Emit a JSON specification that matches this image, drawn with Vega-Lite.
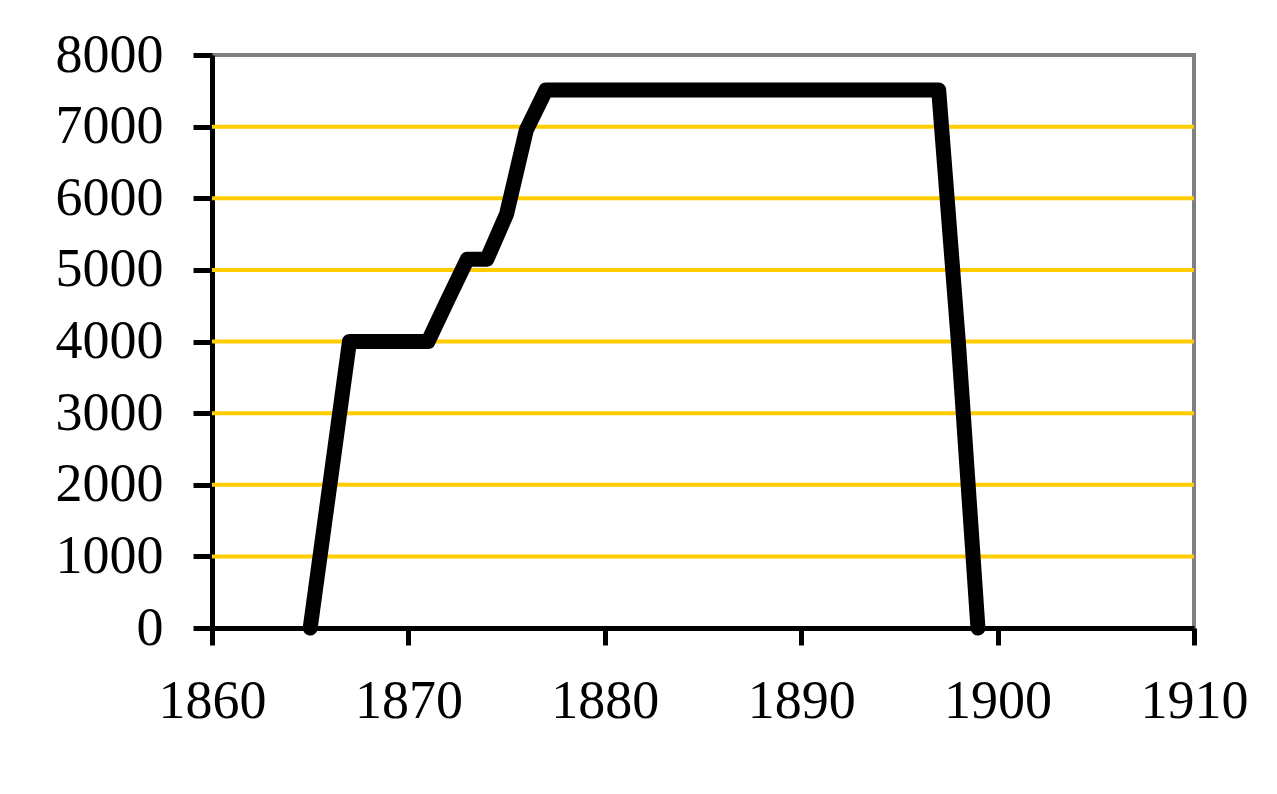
{
  "$schema": "https://vega.github.io/schema/vega-lite/v6.json",
  "width": 982,
  "height": 573,
  "autosize": {"type": "none"},
  "padding": {"left": 212, "top": 55, "right": 83, "bottom": 166},
  "background": "white",
  "config": {
    "view": {"stroke": "#808080", "strokeWidth": 4},
    "axis": {
      "labelFont": "Liberation Serif",
      "labelFontSize": 54,
      "labelColor": "black",
      "domainColor": "black",
      "domainWidth": 5,
      "tickColor": "black",
      "tickWidth": 5,
      "grid": false,
      "title": null
    }
  },
  "datasets": {
    "series": [
      {"year": 1865, "value": 0},
      {"year": 1866, "value": 2000},
      {"year": 1867, "value": 4000},
      {"year": 1871, "value": 4000},
      {"year": 1872, "value": 4580},
      {"year": 1873, "value": 5150},
      {"year": 1874, "value": 5150},
      {"year": 1875, "value": 5780},
      {"year": 1876, "value": 6950},
      {"year": 1877, "value": 7510},
      {"year": 1897, "value": 7510},
      {"year": 1898, "value": 4000},
      {"year": 1899, "value": 0}
    ],
    "grid": [
      {"g": 1000}, {"g": 2000}, {"g": 3000}, {"g": 4000},
      {"g": 5000}, {"g": 6000}, {"g": 7000}
    ]
  },
  "layer": [
    {
      "data": {"name": "grid"},
      "mark": {"type": "rule", "color": "#FFCC00", "strokeWidth": 4},
      "encoding": {
        "y": {"field": "g", "type": "quantitative", "scale": {"domain": [0, 8000]}}
      }
    },
    {
      "data": {"name": "series"},
      "mark": {"type": "line", "color": "black", "strokeWidth": 15, "strokeJoin": "round", "strokeCap": "round"},
      "encoding": {
        "x": {
          "field": "year",
          "type": "quantitative",
          "scale": {"domain": [1860, 1910], "nice": false, "zero": false},
          "axis": {
            "values": [1860, 1870, 1880, 1890, 1900, 1910],
            "format": "d",
            "tickSize": 17,
            "labelPadding": 29,
            "labelFlush": false,
            "labelOverlap": false
          }
        },
        "y": {
          "field": "value",
          "type": "quantitative",
          "scale": {"domain": [0, 8000], "nice": false},
          "axis": {
            "values": [0, 1000, 2000, 3000, 4000, 5000, 6000, 7000, 8000],
            "format": "d",
            "tickSize": 19,
            "labelPadding": 30,
            "labelFlush": false,
            "labelOverlap": false
          }
        }
      }
    }
  ]
}
